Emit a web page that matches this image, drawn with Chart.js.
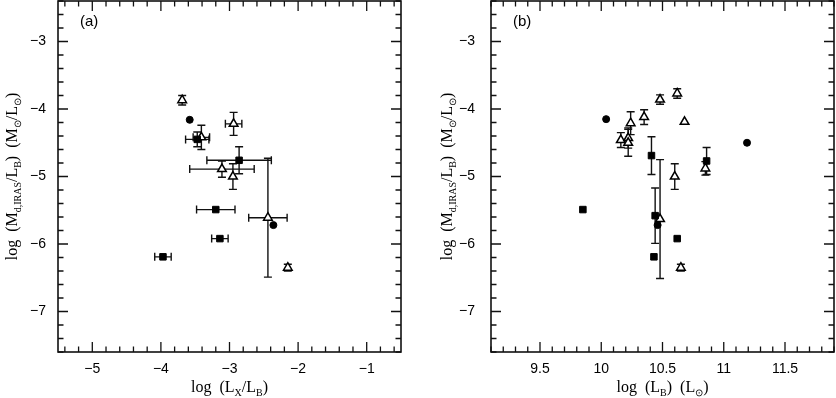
<!DOCTYPE html>
<html>
<head>
<meta charset="utf-8">
<script src="https://cdn.jsdelivr.net/npm/chart.js@4"></script>
<style>
body { margin: 0; background: #fff; }
.panel { position: absolute; top: 0; }
</style>
</head>
<body>
<div class="panel" style="left:0"><canvas id="chartA" width="418" height="398"></canvas></div>
<div class="panel" style="left:418px"><canvas id="chartB" width="418" height="398"></canvas></div>
<script>
// panel (a): log(Lx/LB) vs log(Md/LB)
const aX    = [-3.69, -3.58, -2.94, -3.47, -3.41, -2.86, -3.11, -2.95, -2.44, -3.20, -2.36, -3.14, -3.97, -2.15];
const aY    = [-3.87, -4.16, -4.22, -4.45, -4.42, -4.76, -4.89, -5.00, -5.61, -5.49, -5.72, -5.92, -6.19, -6.35];
const aXerr = [0, 0, 0.12, 0.17, 0.12, 0.47, 0.47, 0, 0.28, 0.28, 0, 0.12, 0.12, 0];
const aYerr = [0.07, 0, 0.17, 0.11, 0.18, 0.20, 0.12, 0.19, 0.88, 0, 0, 0, 0, 0.05];
const aMark = ['tri', 'dot', 'tri', 'sq', 'tri', 'sq', 'tri', 'tri', 'tri', 'sq', 'dot', 'sq', 'sq', 'tri'];

// panel (b): log(LB) vs log(Md/LB)
const bX    = [10.04, 10.48, 10.62, 10.68, 10.35, 10.24, 10.16, 10.22, 10.22, 10.41, 10.60, 10.86, 10.85, 11.19, 9.85, 10.44, 10.48, 10.46, 10.62, 10.43, 10.65];
const bY    = [-4.15, -3.86, -3.77, -4.19, -4.12, -4.21, -4.46, -4.43, -4.50, -4.69, -5.00, -4.77, -4.88, -4.50, -5.49, -5.58, -5.63, -5.72, -5.92, -6.19, -6.35];
const bYerr = [0, 0.07, 0.07, 0, 0.11, 0.17, 0.11, 0.15, 0.20, 0.28, 0.19, 0.20, 0.10, 0, 0, 0.41, 0.88, 0, 0, 0, 0.05];
const bMark = ['dot', 'tri', 'tri', 'tri', 'tri', 'tri', 'tri', 'tri', 'tri', 'sq', 'tri', 'sq', 'tri', 'dot', 'sq', 'sq', 'tri', 'dot', 'sq', 'sq', 'tri'];

const aXTicks = [-5, -4, -3, -2, -1];
const bXTicks = [9.5, 10, 10.5, 11, 11.5];
const yTicks  = [-7, -6, -5, -4, -3];

const fmt = v => (v < 0 ? '\u2212' + Math.abs(v) : String(v));

function drawRich(ctx, parts, x, y, rot, size) {
    ctx.save();
    ctx.translate(x, y);
    ctx.rotate(rot);
    const big = size + 'px "Liberation Serif"';
    const small = Math.round(size * 0.62) + 'px "Liberation Serif"';
    let w = 0;
    parts.forEach(p => { ctx.font = p.sub ? small : big; w += ctx.measureText(p.t).width; });
    let cx = -w / 2;
    ctx.fillStyle = '#000';
    ctx.textAlign = 'left';
    ctx.textBaseline = 'alphabetic';
    parts.forEach(p => {
        ctx.font = p.sub ? small : big;
        ctx.fillText(p.t, cx, p.sub ? size * 0.25 : 0);
        cx += ctx.measureText(p.t).width;
    });
    ctx.restore();
}

const frameTicks = {
    id: 'frameTicks',
    beforeDatasetsDraw(chart) {
        const ctx = chart.ctx, xs = chart.scales.x, ys = chart.scales.y;
        ctx.save();
        ctx.strokeStyle = '#111';
        ctx.lineWidth = 1.4;
        chart.data.datasets.forEach(ds => {
            ds.data.forEach(p => {
                const px = xs.getPixelForValue(p.x), py = ys.getPixelForValue(p.y);
                ctx.beginPath();
                if (p.xerr) {
                    const l = xs.getPixelForValue(p.x - p.xerr), r = xs.getPixelForValue(p.x + p.xerr);
                    ctx.moveTo(l, py); ctx.lineTo(r, py);
                    ctx.moveTo(l, py - 4); ctx.lineTo(l, py + 4);
                    ctx.moveTo(r, py - 4); ctx.lineTo(r, py + 4);
                }
                if (p.yerr) {
                    const t = ys.getPixelForValue(p.y + p.yerr), b = ys.getPixelForValue(p.y - p.yerr);
                    ctx.moveTo(px, t); ctx.lineTo(px, b);
                    ctx.moveTo(px - 4, t); ctx.lineTo(px + 4, t);
                    ctx.moveTo(px - 4, b); ctx.lineTo(px + 4, b);
                }
                ctx.stroke();
            });
        });
        ctx.restore();
    },
    afterDraw(chart, args, o) {
        const ctx = chart.ctx, a = chart.chartArea, xs = chart.scales.x, ys = chart.scales.y;
        ctx.save();
        ctx.strokeStyle = '#111';
        ctx.lineWidth = 1.6;
        ctx.strokeRect(a.left, a.top, a.right - a.left, a.bottom - a.top);
        ctx.lineWidth = 1.3;
        ctx.beginPath();
        const isMajor = (v, m) => Math.abs(v / m - Math.round(v / m)) < 1e-6;
        for (let i = Math.ceil(xs.min / o.xMinor - 1e-6); i * o.xMinor <= xs.max + 1e-9; i++) {
            const v = i * o.xMinor, px = xs.getPixelForValue(v);
            const len = isMajor(v, o.xMajor) ? 10 : 5.5;
            ctx.moveTo(px, a.bottom); ctx.lineTo(px, a.bottom - len);
            ctx.moveTo(px, a.top); ctx.lineTo(px, a.top + len);
        }
        for (let i = Math.ceil(ys.min / o.yMinor - 1e-6); i * o.yMinor <= ys.max + 1e-9; i++) {
            const v = i * o.yMinor, py = ys.getPixelForValue(v);
            const len = isMajor(v, o.yMajor) ? 10 : 5.5;
            ctx.moveTo(a.left, py); ctx.lineTo(a.left + len, py);
            ctx.moveTo(a.right, py); ctx.lineTo(a.right - len, py);
        }
        ctx.stroke();
        ctx.fillStyle = '#000';
        ctx.font = '15px "Liberation Sans"';
        ctx.textBaseline = 'alphabetic';
        ctx.fillText(o.label, a.left + 22, a.top + 25);
        ctx.restore();
        drawRich(ctx, o.xTitle, (a.left + a.right) / 2, 392, 0, 16);
        drawRich(ctx, o.yTitle, a.left - o.yTitleGap, (a.top + a.bottom) / 2, -Math.PI / 2, 16);
    }
};

const yTitle = [
    { t: 'log  (M' }, { t: 'd,IRAS', sub: true }, { t: '/L' }, { t: 'B', sub: true },
    { t: ')  (M' }, { t: '\u2299', sub: true }, { t: '/L' }, { t: '\u2299', sub: true }, { t: ')' }
];

function makeChart(id, xs, ys, xe, ye, marks, xMin, xMax, xTicks, yWidth, yPad, padRight, plug) {
    const pts = m => xs.map((x, i) => ({ x: x, y: ys[i], xerr: xe[i], yerr: ye[i], m: marks[i] }))
        .filter(p => p.m === m);
    const tickFont = { family: 'Liberation Sans', size: 14 };
    return new Chart(document.getElementById(id), {
        type: 'scatter',
        data: {
            datasets: [
                { data: pts('sq'), pointStyle: 'rect', pointRadius: 4.6, backgroundColor: '#000', borderColor: '#000', borderWidth: 1 },
                { data: pts('dot'), pointStyle: 'circle', pointRadius: 3.5, backgroundColor: '#000', borderColor: '#000', borderWidth: 1 },
                { data: pts('tri'), pointStyle: 'triangle', pointRadius: 5, backgroundColor: '#fff', borderColor: '#000', borderWidth: 1.5 }
            ]
        },
        options: {
            responsive: false,
            animation: false,
            devicePixelRatio: 1,
            layout: { autoPadding: false, padding: { left: 0, right: padRight, top: 1, bottom: 0 } },
            plugins: { legend: { display: false }, tooltip: { enabled: false }, frameTicks: plug },
            scales: {
                x: {
                    type: 'linear', min: xMin, max: xMax,
                    grid: { display: false, drawTicks: false }, border: { display: false },
                    ticks: { padding: 9, font: tickFont, color: '#000', autoSkip: false, maxRotation: 0, callback: fmt },
                    afterBuildTicks: s => { s.ticks = xTicks.map(v => ({ value: v })); },
                    afterFit: s => { s.height = 46; s.paddingLeft = 0; s.paddingRight = 0; }
                },
                y: {
                    type: 'linear', min: -7.6, max: -2.4,
                    grid: { display: false, drawTicks: false }, border: { display: false },
                    ticks: { padding: yPad, font: tickFont, color: '#000', autoSkip: false, callback: fmt },
                    afterBuildTicks: s => { s.ticks = yTicks.map(v => ({ value: v })); },
                    afterFit: s => { s.width = yWidth; s.paddingTop = 0; s.paddingBottom = 0; }
                }
            }
        },
        plugins: [frameTicks]
    });
}

makeChart('chartA', aX, aY, aXerr, aYerr, aMark, -5.5, -0.5, aXTicks, 58, 12, 17, {
    xMinor: 0.2, xMajor: 1, yMinor: 0.2, yMajor: 1, label: '(a)', yTitleGap: 41,
    xTitle: [{ t: 'log  (L' }, { t: 'X', sub: true }, { t: '/L' }, { t: 'B', sub: true }, { t: ')' }],
    yTitle: yTitle
});

makeChart('chartB', bX, bY, bX.map(() => 0), bYerr, bMark, 9.1, 11.9, bXTicks, 73, 16, 2, {
    xMinor: 0.1, xMajor: 0.5, yMinor: 0.2, yMajor: 1, label: '(b)', yTitleGap: 39,
    xTitle: [{ t: 'log  (L' }, { t: 'B', sub: true }, { t: ')  (L' }, { t: '\u2299', sub: true }, { t: ')' }],
    yTitle: yTitle
});
</script>
</body>
</html>
